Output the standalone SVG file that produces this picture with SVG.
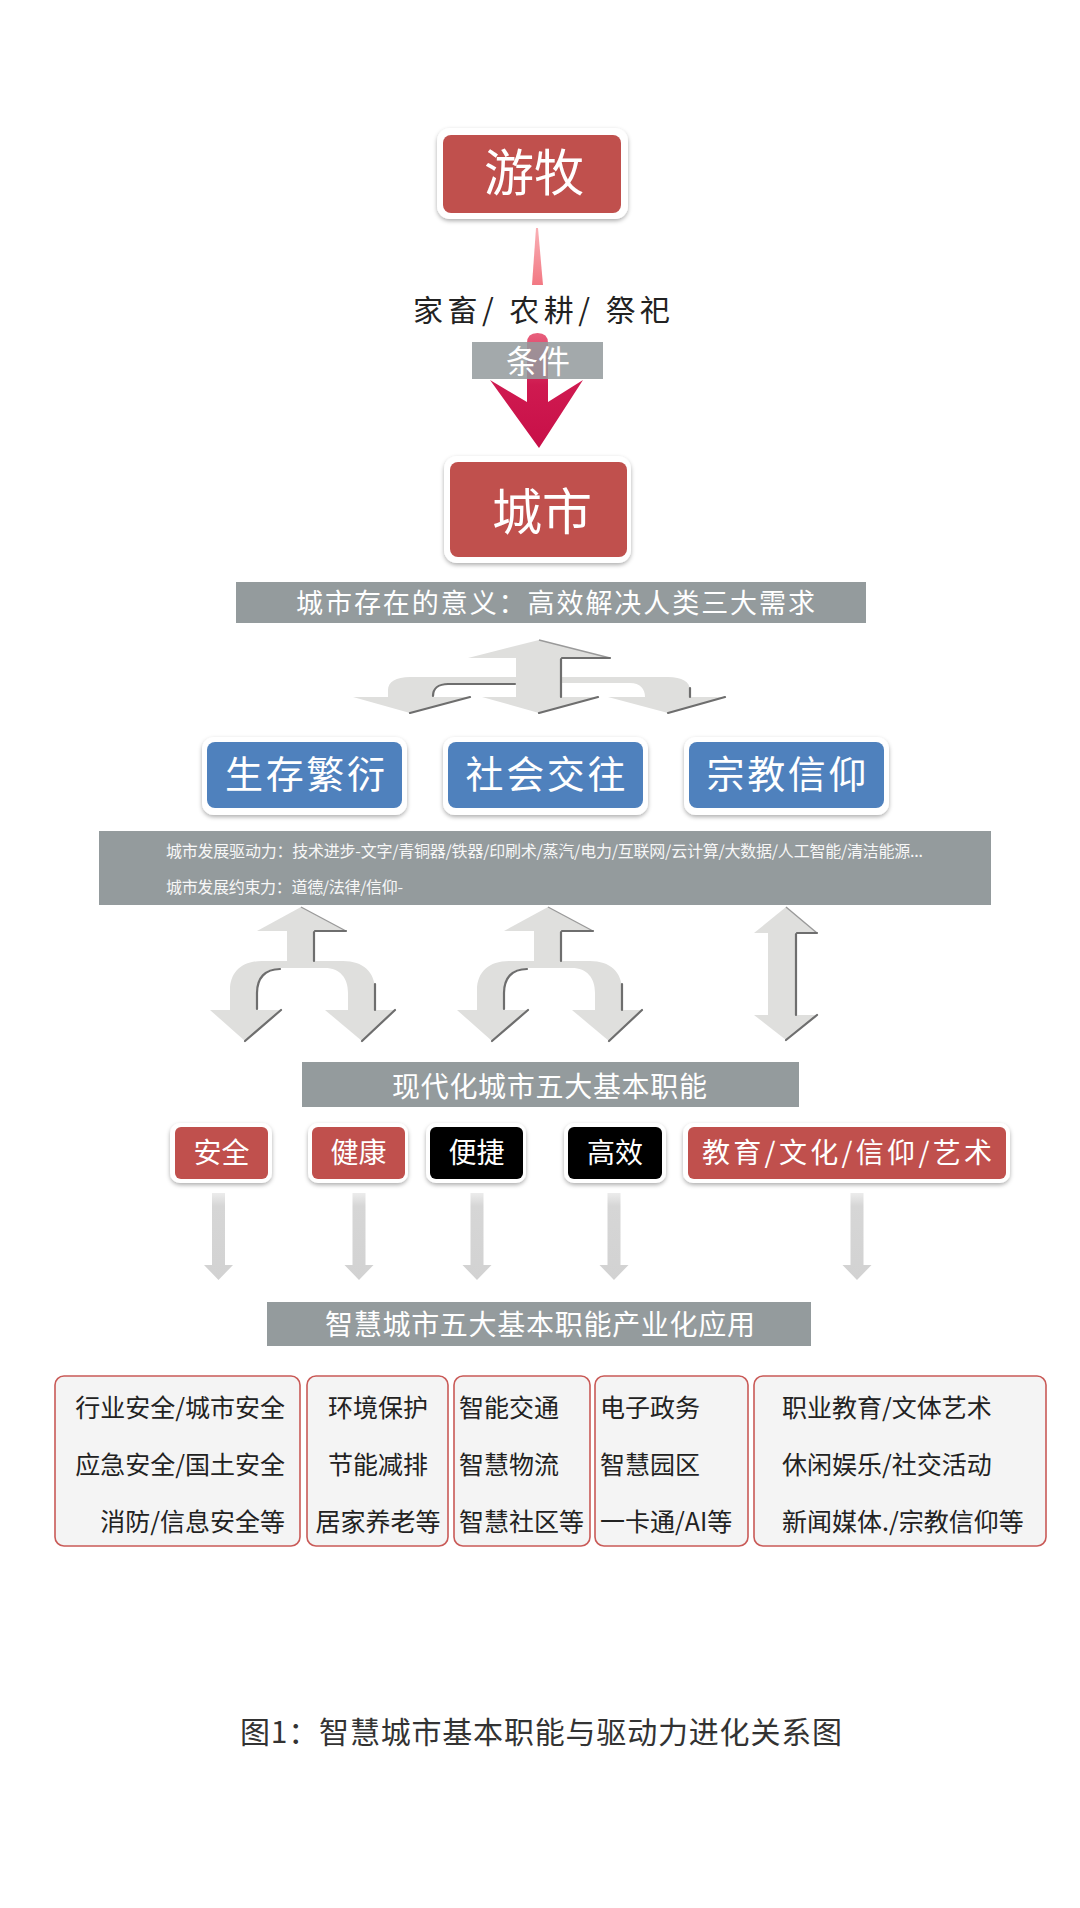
<svg xmlns="http://www.w3.org/2000/svg" width="1080" height="1908" viewBox="0 0 1080 1908">
<defs>
<style>
text{font-family:"Noto Sans CJK SC","Noto Sans",sans-serif;}
.w{fill:#ffffff;}
.frame{fill:#ffffff;filter:url(#sh);}
.red{fill:#c0504d;}
.blue{fill:#4f81bd;}
.blk{fill:#000000;}
.band{fill:#949b9d;}
.arr{fill:#dfdfdd;}
.shd{fill:none;stroke:#6e6e6e;stroke-width:2.2;stroke-linecap:round;}
.shl{fill:none;stroke:#9a9a9a;stroke-width:1.4;}
.app{fill:#f4f4f4;stroke:#c95a57;stroke-width:1.6;}
.apt{fill:#222222;font-size:25px;}
.sarr{fill:url(#gs);}
</style>
<filter id="sh" x="-20%" y="-20%" width="140%" height="150%">
<feDropShadow dx="0" dy="2" stdDeviation="2.2" flood-color="#000" flood-opacity="0.32"/>
</filter>
<linearGradient id="gr" x1="0" y1="333" x2="0" y2="448" gradientUnits="userSpaceOnUse">
<stop offset="0" stop-color="#e8607c"/>
<stop offset="0.45" stop-color="#cf1a50"/>
<stop offset="1" stop-color="#c80f48"/>
</linearGradient>
<linearGradient id="gp" x1="0" y1="228" x2="0" y2="285" gradientUnits="userSpaceOnUse">
<stop offset="0" stop-color="#f9b0b5"/>
<stop offset="1" stop-color="#f27883"/>
</linearGradient>
<linearGradient id="gs" x1="0" y1="0" x2="0" y2="1">
<stop offset="0" stop-color="#ececec"/>
<stop offset="0.15" stop-color="#d6d6d6"/>
<stop offset="1" stop-color="#d2d2d2"/>
</linearGradient>
</defs>
<rect width="1080" height="1908" fill="#ffffff"/>

<!-- connectors -->
<g id="connectors">
  <polygon id="wedge" points="536,228 538,228 543,285 532,285" fill="url(#gp)"/>
  <path id="bigArrow" d="M527 343 Q527 333 537.5 333 Q548 333 548 343 L548 402 L583 380 L539 448 L490 380 L527 402 Z" fill="url(#gr)"/>
  <!-- three-way arrow -->
  <g id="threeWay">
    <polygon class="arr" points="539,640 610,658 468,658"/>
    <rect class="arr" x="516" y="657" width="45" height="41"/>
    <path class="arr" d="M388 697 L388 690 C388 682 396 677 410 677 L668 677 C682 677 690 682 690 690 L690 697 L645 697 C645 689 640 683 630 683 L448 683 C438 683 433 689 433 697 Z"/>
    <polygon class="arr" points="353,697 470,697 410,713"/>
    <polygon class="arr" points="482,697 598,697 539,713"/>
    <polygon class="arr" points="608,697 725,697 668,713"/>
    <path class="shl" d="M539 640 L610 658"/>
    <path class="shd" d="M562 658 L610 658 M561 659 L561 697"/>
    <path class="shd" d="M433 696 C433 689 438 684 448 684 L515 684"/>
    <path class="shd" d="M690 688 L690 697"/>
    <path class="shd" d="M410 713 L470 697 M539 713 L598 697 M668 713 L725 697"/>
  </g>
  <!-- two-way arrows -->
  <g id="twoWayA">
    <polygon class="arr" points="301,907 346,931 257,931"/>
    <rect class="arr" x="287" y="930" width="27" height="33"/>
    <path class="arr" d="M230 1010 L230 990 C230 972 242 961 262 961 L343 961 C363 961 375 972 375 990 L375 1010 L348 1010 L348 993 C348 978 340 968 325 968 L280 968 C265 968 257 978 257 993 L257 1010 Z"/>
    <polygon class="arr" points="210,1010 281,1010 245,1041"/>
    <polygon class="arr" points="325,1010 395,1010 362,1041"/>
    <path class="shl" d="M301 907 L346 931"/>
    <path class="shd" d="M315 931 L346 931 M314 932 L314 961"/>
    <path class="shd" d="M257 1009 L257 993 C257 978 265 969 280 969"/>
    <path class="shd" d="M375 984 L375 1010"/>
    <path class="shd" d="M245 1041 L281 1010 M362 1041 L395 1010"/>
  </g>
  <g id="twoWayB" transform="translate(247,0)">
    <polygon class="arr" points="301,907 346,931 257,931"/>
    <rect class="arr" x="287" y="930" width="27" height="33"/>
    <path class="arr" d="M230 1010 L230 990 C230 972 242 961 262 961 L343 961 C363 961 375 972 375 990 L375 1010 L348 1010 L348 993 C348 978 340 968 325 968 L280 968 C265 968 257 978 257 993 L257 1010 Z"/>
    <polygon class="arr" points="210,1010 281,1010 245,1041"/>
    <polygon class="arr" points="325,1010 395,1010 362,1041"/>
    <path class="shl" d="M301 907 L346 931"/>
    <path class="shd" d="M315 931 L346 931 M314 932 L314 961"/>
    <path class="shd" d="M257 1009 L257 993 C257 978 265 969 280 969"/>
    <path class="shd" d="M375 984 L375 1010"/>
    <path class="shd" d="M245 1041 L281 1010 M362 1041 L395 1010"/>
  </g>
  <g id="doubleArrow">
    <polygon class="arr" points="786,907 817,933 754,933"/>
    <rect class="arr" x="768" y="932" width="28" height="84"/>
    <polygon class="arr" points="754,1015 817,1015 786,1040"/>
    <path class="shl" d="M786 907 L817 933"/>
    <path class="shd" d="M797 933 L817 933 M796 934 L796 1015"/>
    <path class="shd" d="M786 1040 L817 1015"/>
  </g>
  <!-- small down arrows -->
  <g id="smallArrows">
    <path class="sarr" d="M212 1193 L225 1193 L225 1265 L233 1265 L218.5 1280 L204 1265 L212 1265 Z"/>
    <path class="sarr" d="M352.5 1193 L365.5 1193 L365.5 1265 L373.5 1265 L359 1280 L344.5 1265 L352.5 1265 Z"/>
    <path class="sarr" d="M470.5 1193 L483.5 1193 L483.5 1265 L491.5 1265 L477 1280 L462.5 1265 L470.5 1265 Z"/>
    <path class="sarr" d="M607.5 1193 L620.5 1193 L620.5 1265 L628.5 1265 L614 1280 L599.5 1265 L607.5 1265 Z"/>
    <path class="sarr" d="M850.5 1193 L863.5 1193 L863.5 1265 L871.5 1265 L857 1280 L842.5 1265 L850.5 1265 Z"/>
  </g>
</g>

<!-- 游牧 -->
<g id="node-youmu">
  <rect class="frame" x="437" y="128" width="191" height="91" rx="13"/>
  <rect class="red" x="443" y="135" width="178" height="78" rx="8"/>
  <text x="534" y="191" text-anchor="middle" font-size="50" class="w">游牧</text>
</g>

<g id="label-conditions">
  <text x="541.5" y="321" text-anchor="middle" font-size="30" fill="#222" textLength="257" lengthAdjust="spacing">家畜/ 农耕/ 祭祀</text>
</g>

<g id="node-tiaojian">
  <rect class="band" x="472" y="342" width="131" height="37" opacity="0.86"/>
  <text x="538" y="373" text-anchor="middle" font-size="32" class="w">条件</text>
</g>

<!-- 城市 -->
<g id="node-city">
  <rect class="frame" x="444" y="456" width="187" height="107" rx="13"/>
  <rect class="red" x="450" y="462" width="177" height="95" rx="8"/>
  <text x="542" y="530" text-anchor="middle" font-size="50" class="w">城市</text>
</g>

<g id="node-meaning">
  <rect class="band" x="236" y="582" width="630" height="41"/>
  <text x="555.5" y="613" text-anchor="middle" font-size="27" class="w" textLength="519" lengthAdjust="spacing">城市存在的意义：高效解决人类三大需求</text>
</g>

<g id="node-survive">
  <rect class="frame" x="202" y="737" width="205" height="78" rx="12"/>
  <rect class="blue" x="207" y="742" width="195" height="66" rx="8"/>
  <text x="305" y="788" text-anchor="middle" font-size="38" class="w" textLength="160" lengthAdjust="spacing">生存繁衍</text>
</g>
<g id="node-social">
  <rect class="frame" x="443" y="737" width="205" height="78" rx="12"/>
  <rect class="blue" x="448" y="742" width="195" height="66" rx="8"/>
  <text x="545.5" y="788" text-anchor="middle" font-size="38" class="w" textLength="160" lengthAdjust="spacing">社会交往</text>
</g>
<g id="node-religion">
  <rect class="frame" x="684" y="737" width="205" height="78" rx="12"/>
  <rect class="blue" x="689" y="742" width="195" height="66" rx="8"/>
  <text x="786.5" y="788" text-anchor="middle" font-size="38" class="w" textLength="160" lengthAdjust="spacing">宗教信仰</text>
</g>

<g id="node-drivers">
  <rect class="band" x="99" y="831" width="892" height="74"/>
  <text x="166" y="857" font-size="16" fill="#f7f7f7" textLength="757" lengthAdjust="spacing">城市发展驱动力：技术进步-文字/青铜器/铁器/印刷术/蒸汽/电力/互联网/云计算/大数据/人工智能/清洁能源...</text>
  <text x="166" y="893" font-size="16" fill="#f7f7f7" textLength="237" lengthAdjust="spacing">城市发展约束力：道德/法律/信仰-</text>
</g>

<g id="node-functions">
  <rect class="band" x="302" y="1062" width="497" height="45"/>
  <text x="549.5" y="1097" text-anchor="middle" font-size="28" class="w" textLength="315" lengthAdjust="spacing">现代化城市五大基本职能</text>
</g>

<g id="node-safe">
  <rect class="frame" x="170" y="1123" width="102" height="60" rx="10"/>
  <rect class="red" x="175" y="1127" width="93" height="52" rx="6"/>
  <text x="221.5" y="1163" text-anchor="middle" font-size="28" class="w">安全</text>
</g>
<g id="node-health">
  <rect class="frame" x="308" y="1123" width="100" height="60" rx="10"/>
  <rect class="red" x="312" y="1127" width="93" height="52" rx="6"/>
  <text x="358.5" y="1163" text-anchor="middle" font-size="28" class="w">健康</text>
</g>
<g id="node-convenient">
  <rect class="frame" x="426" y="1123" width="100" height="60" rx="10"/>
  <rect class="blk" x="430" y="1127" width="93" height="52" rx="6"/>
  <text x="476.5" y="1163" text-anchor="middle" font-size="28" class="w">便捷</text>
</g>
<g id="node-efficient">
  <rect class="frame" x="564" y="1123" width="102" height="60" rx="10"/>
  <rect class="blk" x="568" y="1127" width="94" height="52" rx="6"/>
  <text x="615" y="1163" text-anchor="middle" font-size="28" class="w">高效</text>
</g>
<g id="node-culture">
  <rect class="frame" x="683" y="1123" width="327" height="60" rx="10"/>
  <rect class="red" x="688" y="1127" width="318" height="52" rx="6"/>
  <text x="847" y="1163" text-anchor="middle" font-size="28" class="w" textLength="290" lengthAdjust="spacing">教育/文化/信仰/艺术</text>
</g>

<g id="node-industry">
  <rect class="band" x="267" y="1302" width="544" height="44"/>
  <text x="540" y="1335" text-anchor="middle" font-size="28" class="w" textLength="430" lengthAdjust="spacing">智慧城市五大基本职能产业化应用</text>
</g>

<g id="app-safe">
  <rect class="app" x="55" y="1376" width="245" height="170" rx="9"/>
  <text class="apt" x="285" y="1416.5" text-anchor="end">行业安全/城市安全</text>
  <text class="apt" x="285" y="1473.5" text-anchor="end">应急安全/国土安全</text>
  <text class="apt" x="285" y="1530.5" text-anchor="end">消防/信息安全等</text>
</g>
<g id="app-health">
  <rect class="app" x="307" y="1376" width="141" height="170" rx="9"/>
  <text class="apt" x="378" y="1416.5" text-anchor="middle">环境保护</text>
  <text class="apt" x="378" y="1473.5" text-anchor="middle">节能减排</text>
  <text class="apt" x="378" y="1530.5" text-anchor="middle">居家养老等</text>
</g>
<g id="app-convenient">
  <rect class="app" x="454" y="1376" width="136" height="170" rx="9"/>
  <text class="apt" x="459" y="1416.5">智能交通</text>
  <text class="apt" x="459" y="1473.5">智慧物流</text>
  <text class="apt" x="459" y="1530.5">智慧社区等</text>
</g>
<g id="app-efficient">
  <rect class="app" x="595" y="1376" width="153" height="170" rx="9"/>
  <text class="apt" x="600" y="1416.5">电子政务</text>
  <text class="apt" x="600" y="1473.5">智慧园区</text>
  <text class="apt" x="600" y="1530.5">一卡通/AI等</text>
</g>
<g id="app-culture">
  <rect class="app" x="754" y="1376" width="292" height="170" rx="9"/>
  <text class="apt" x="782" y="1416.5">职业教育/文体艺术</text>
  <text class="apt" x="782" y="1473.5">休闲娱乐/社交活动</text>
  <text class="apt" x="782" y="1530.5">新闻媒体./宗教信仰等</text>
</g>

<g id="caption">
  <text x="541" y="1743" text-anchor="middle" font-size="30" fill="#333" textLength="602" lengthAdjust="spacing">图1：智慧城市基本职能与驱动力进化关系图</text>
</g>
</svg>
